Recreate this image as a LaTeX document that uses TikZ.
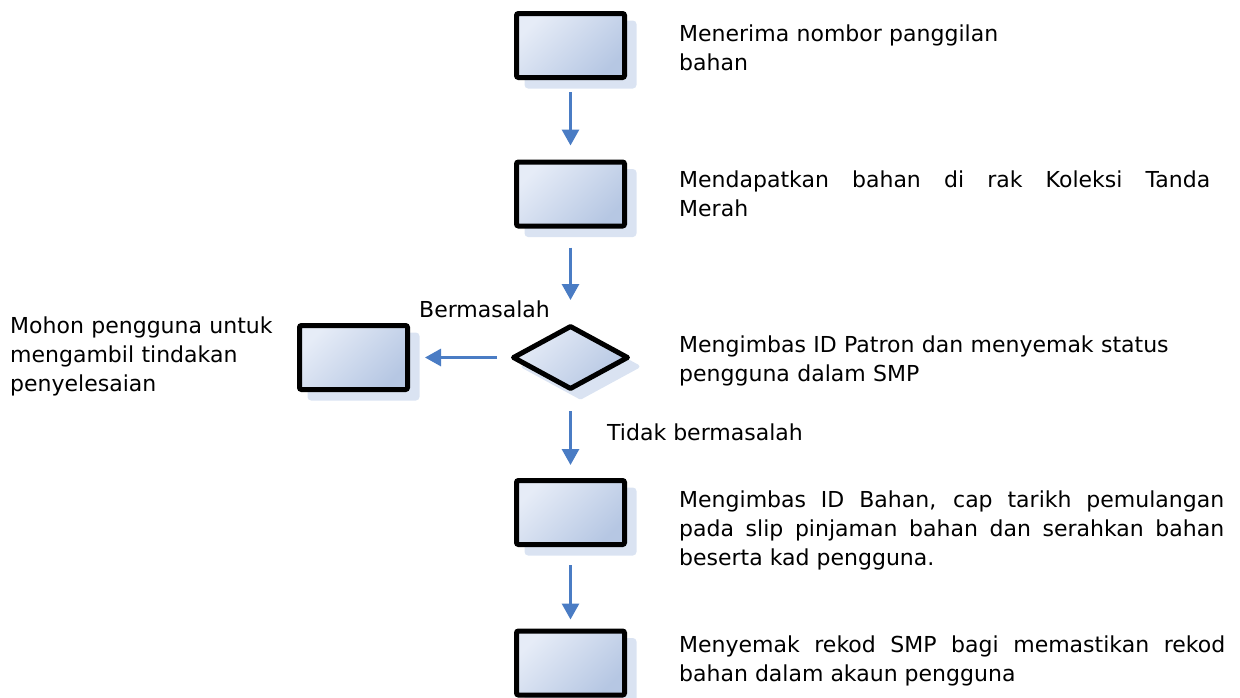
\documentclass[tikz,border=0pt]{standalone}
\usepackage{fontspec}
\setmainfont{DejaVu Sans}
\usetikzlibrary{arrows.meta,shapes.geometric,shadows}
\definecolor{BoxLight}{HTML}{E6ECF7}
\definecolor{BoxDark}{HTML}{B6C7E3}
\definecolor{ShadowBlue}{HTML}{DAE3F2}
\definecolor{FlowBlue}{HTML}{4A7CC4}
\newcommand{\notefont}{\fontsize{22}{29}\selectfont\hyphenpenalty=10000\tolerance=10000}
\tikzset{
    stepbox/.style={rectangle, draw=black, line width=5pt, rounded corners=2pt,
        minimum width=108pt, minimum height=64pt, inner sep=0pt,
        top color=BoxLight, bottom color=BoxDark, shading angle=45,
        general shadow={fill=ShadowBlue, draw=ShadowBlue, line width=4pt,
            shadow xshift=10pt, shadow yshift=-9pt}},
    checkbox/.style={stepbox, diamond, rounded corners=0pt, line join=round,
        minimum width=116pt, minimum height=64pt, aspect=1.8},
    flowarrow/.style={draw=FlowBlue, line width=3pt,
        -{Triangle[width=17pt,length=16pt]}},
    notetext/.style={anchor=base west, inner sep=0pt, font=\notefont}
}
\begin{document}
\begin{tikzpicture}[x=1pt,y=-1pt]
                    \useasboundingbox (0,0) rectangle (1240,697);
%                    Langkah
                    \node[stepbox] (terima) at (570.5,45.5) {};
                    \node[stepbox] (dapat) at (570.5,194) {};
                    \node[checkbox] (semak) at (570.5,357.5) {};
                    \node[stepbox] (mohon) at (353.5,357.5) {};
                    \node[stepbox] (imbas) at (570.5,512.5) {};
                    \node[stepbox] (rekod) at (570.5,663) {};

                    \draw[flowarrow] ([yshift=-12pt]terima.south) -- ([yshift=14pt]dapat.north);
                    \draw[flowarrow] ([yshift=-19pt]dapat.south) -- ([yshift=23pt]semak.north);
                    \draw[flowarrow] ([xshift=-13pt]semak.west) -- ([xshift=15pt]mohon.east);
                    \draw[flowarrow] ([yshift=-19pt]semak.south) -- ([yshift=13pt]imbas.north);
                    \draw[flowarrow] ([yshift=-18pt]imbas.south) -- ([yshift=9pt]rekod.north);

%                    Keterangan
                    \node[notetext, text width=340pt, align=left] (t-terima) at (679,41)
                        {Menerima nombor panggilan\\bahan};
                    \node[notetext, text width=531pt, align=justify] (t-dapat) at (679,187)
                        {Mendapatkan bahan di rak Koleksi Tanda \linebreak Merah};
                    \node[notetext, text width=540pt, align=left] (t-semak) at (679,352)
                        {Mengimbas ID Patron dan menyemak status\\pengguna dalam SMP};
                    \node[notetext, text width=280pt, align=left] (t-mohon) at (10,333)
                        {Mohon pengguna untuk\\mengambil tindakan\\penyelesaian};
                    \node[notetext, text width=545pt, align=justify] (t-imbas) at (679,507)
                        {Mengimbas ID Bahan, cap tarikh pemulangan \linebreak pada slip pinjaman bahan dan serahkan bahan \linebreak beserta kad pengguna.};
                    \node[notetext, text width=546pt, align=justify] (t-rekod) at (679,652)
                        {Menyemak rekod SMP bagi memastikan rekod \linebreak bahan dalam akaun pengguna};
                    \node[notetext] (ya) at (419,317) {Bermasalah};
                    \node[notetext] (tidak) at (607,440) {Tidak bermasalah};

                \end{tikzpicture}
\end{document}
